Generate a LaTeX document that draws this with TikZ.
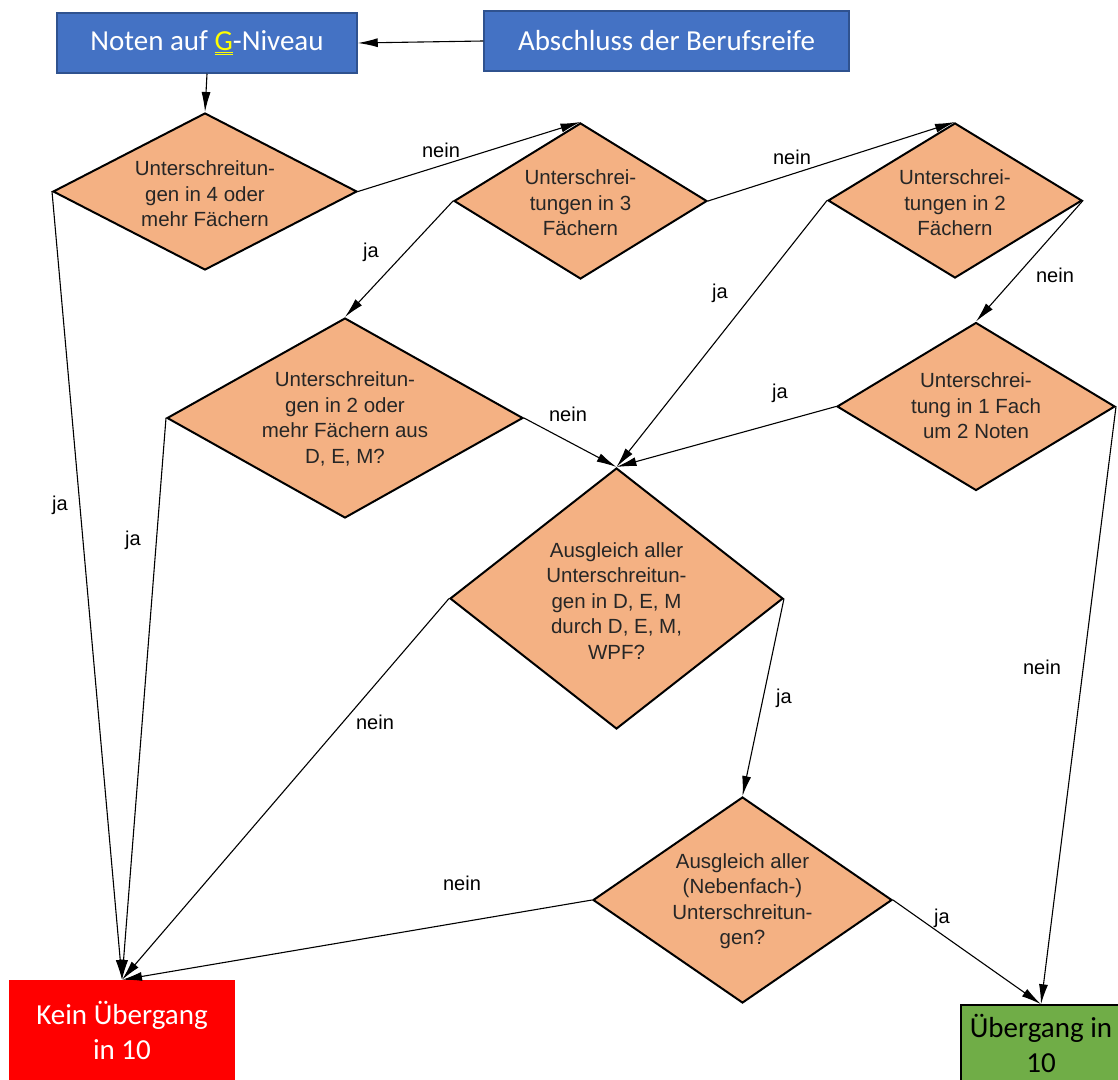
\documentclass[tikz,border=0pt]{standalone}
\usepackage{fontspec}
\setmainfont{Liberation Sans}
\newfontfamily\calfont{Carlito}
\usetikzlibrary{arrows.meta,shapes.geometric}
\definecolor{boxblue}{HTML}{4472C4}
\definecolor{boxblueline}{HTML}{2F528F}
\definecolor{dorange}{HTML}{F4B183}
\definecolor{kred}{HTML}{FF0000}
\definecolor{ugreen}{HTML}{70AD47}
\definecolor{gyel}{HTML}{FFFF00}
\begin{document}
\begin{tikzpicture}[x=1pt,y=-1pt,
 bluebox/.style={draw=boxblueline, line width=1.5pt, fill=boxblue, text=white, font=\calfont\fontsize{29}{35}\selectfont, inner sep=0, align=center},
 dia/.style={diamond, draw=black, line width=2pt, fill=dorange, inner sep=0, aspect=1},
 dtext/.style={font=\fontsize{20.5}{25.5}\selectfont, align=center, text=black!85, inner sep=0},
 lab/.style={font=\fontsize{20}{24}\selectfont, inner sep=0},
 endbox/.style={font=\calfont\fontsize{29}{35}\selectfont, align=center, inner sep=0},
 conn/.style={draw=black, line width=1.1pt, -{Latex[length=20pt,width=9pt]}},
]
\useasboundingbox (0,0) rectangle (1118,1079);

% top boxes
\node[bluebox, minimum width=300pt, minimum height=60pt] (noten) at (207,43) {Noten auf {\color{gyel}$\underline{\underline{\hbox{G}}}$}-Niveau};
\node[bluebox, minimum width=365pt, minimum height=60pt] (abschluss) at (666.5,41) {Abschluss der Berufsreife};

% diamonds
\node[dia, minimum width=304pt, minimum height=157pt] (d1) at (205,191.5) {};
\node[dtext] (d1t) at (205,194) {Unterschreitun-\\gen in 4 oder\\mehr Fächern};

\node[dia, minimum width=253pt, minimum height=156pt] (d2) at (580.5,201) {};
\node[dtext] (d2t) at (580.5,203) {Unterschrei-\\tungen in 3\\Fächern};

\node[dia, minimum width=254pt, minimum height=155pt] (d3) at (955,200.5) {};
\node[dtext] (d3t) at (955,203) {Unterschrei-\\tungen in 2\\Fächern};

\node[dia, minimum width=356pt, minimum height=200pt] (d4) at (345,418) {};
\node[dtext] (d4t) at (345,419) {Unterschreitun-\\gen in 2 oder\\mehr Fächern aus\\D, E, M?};

\node[dia, minimum width=278pt, minimum height=168pt] (d5) at (976,406.5) {};
\node[dtext] (d5t) at (976,406) {Unterschrei-\\tung in 1 Fach\\um 2 Noten};

\node[dia, minimum width=333pt, minimum height=261pt] (d6) at (616.5,598.5) {};
\node[dtext] (d6t) at (616.5,601) {Ausgleich aller\\Unterschreitun-\\gen in D, E, M\\durch D, E, M,\\WPF?};

\node[dia, minimum width=299pt, minimum height=206pt] (d7) at (742.5,900) {};
\node[dtext] (d7t) at (742.5,901) {Ausgleich aller\\(Nebenfach-)\\Unterschreitun-\\gen?};

% end boxes
\node[endbox, fill=kred, text=white, minimum width=226pt, minimum height=100pt] (kein) at (122,1030) {Kein Übergang\\in 10};
\node[endbox, draw=black, line width=1.5pt, fill=ugreen, text=black, minimum width=160pt, minimum height=76pt] (ueber) at (1041,1043) {Übergang in\\10};

% connectors
\draw[conn] (abschluss.west) -- (noten.east);
\draw[conn] (noten.south) -- (d1.north);
\draw[conn] (d1.east) -- (d2.north);
\draw[conn] (d2.east) -- (d3.north);
\draw[conn] (d1.west) -- (kein.north);
\draw[conn] (d2.west) -- (d4.north);
\draw[conn] (d3.west) -- (d6.north);
\draw[conn] (d3.east) -- (d5.north);
\draw[conn] (d4.west) -- (kein.north);
\draw[conn] (d4.east) -- (d6.north);
\draw[conn] (d5.west) -- (d6.north);
\draw[conn] (d5.east) -- (ueber.north);
\draw[conn] (d6.west) -- (kein.north);
\draw[conn] (d6.east) -- (d7.north);
\draw[conn] (d7.west) -- (kein.north);
\draw[conn] (d7.east) -- (ueber.north);

% labels
\node[lab] (l1) at (441,150) {nein};
\node[lab] (l2) at (792,157) {nein};
\node[lab] (l3) at (371,252) {ja};
\node[lab] (l4) at (720,293) {ja};
\node[lab] (l5) at (1055,275) {nein};
\node[lab] (l6) at (780,393) {ja};
\node[lab] (l7) at (568,414) {nein};
\node[lab] (l8) at (60,505) {ja};
\node[lab] (l9) at (133,540) {ja};
\node[lab] (l10) at (1042,667) {nein};
\node[lab] (l11) at (784,698) {ja};
\node[lab] (l12) at (375,722) {nein};
\node[lab] (l13) at (462,883) {nein};
\node[lab] (l14) at (942,918) {ja};
\end{tikzpicture}
\end{document}
